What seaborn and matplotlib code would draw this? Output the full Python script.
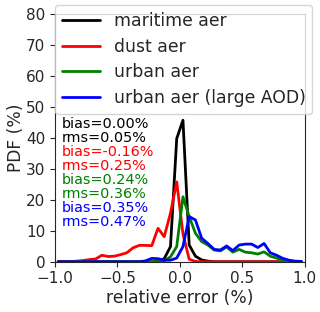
import numpy as np
import pandas as pd
import seaborn as sns
import matplotlib
matplotlib.use('Agg')
import matplotlib.pyplot as plt

sns.set_style('ticks')
plt.rcParams['font.family'] = ['DejaVu Sans']

# bin centres of the relative error histogram (%)
bin_centers = [-0.975, -0.925, -0.875, -0.825, -0.775, -0.725, -0.675, -0.625,
               -0.575, -0.525, -0.475, -0.425, -0.375, -0.325, -0.275, -0.225,
               -0.175, -0.125, -0.075, -0.025, 0.025, 0.075, 0.125, 0.175,
               0.225, 0.275, 0.325, 0.375, 0.425, 0.475, 0.525, 0.575,
               0.625, 0.675, 0.725, 0.775, 0.825, 0.875, 0.925, 0.975]

pdf_maritime = [0, 0, 0, 0, 0, 0, 0, 0,
                0, 0, 0, 0, 0, 0, 0, 0,
                0.2, 1.0, 4.9, 39.8, 45.7, 5.4, 1.8, 0.6,
                0.2, 0, 0, 0, 0, 0, 0, 0,
                0, 0, 0, 0, 0, 0, 0, 0]

pdf_dust = [0.1, 0.1, 0.1, 0.2, 0.4, 0.7, 0.9, 2.1,
            1.7, 1.8, 2.3, 2.9, 4.5, 5.3, 5.3, 5.2,
            10.8, 8.1, 15.7, 25.8, 9.0, 0.8, 0.1, 0,
            0, 0, 0, 0, 0, 0, 0, 0,
            0, 0, 0, 0, 0, 0, 0, 0]

pdf_urban = [0, 0, 0, 0, 0, 0, 0, 0,
             0, 0, 0, 0, 0, 0, 0, 0,
             0.1, 0.3, 1.6, 4.9, 21.0, 14.6, 9.2, 6.5,
             5.4, 3.8, 3.5, 4.8, 3.1, 4.0, 3.1, 2.9,
             2.5, 3.2, 1.8, 1.2, 0.5, 0.2, 0.1, 0]

pdf_urban_large = [0, 0, 0, 0, 0, 0, 0, 0,
                   0, 0, 0, 0, 0, 0, 0.3, 1.1,
                   1.0, 0.5, 0.5, 1.2, 4.9, 14.6, 13.5, 7.6,
                   5.9, 4.0, 3.8, 5.1, 3.6, 5.4, 5.7, 5.7,
                   4.6, 5.9, 2.9, 2.1, 1.1, 0.5, 0.2, 0.1]

labels = ['maritime aer', 'dust aer', 'urban aer', 'urban aer (large AOD)']
colors = ['black', 'red', 'green', 'blue']
stats_text = ['bias=0.00%', 'rms=0.05%', 'bias=-0.16%', 'rms=0.25%',
              'bias=0.24%', 'rms=0.36%', 'bias=0.35%', 'rms=0.47%']
stats_colors = ['black', 'black', 'red', 'red', 'green', 'green', 'blue', 'blue']

frames = []
for lab, vals in zip(labels, [pdf_maritime, pdf_dust, pdf_urban, pdf_urban_large]):
    frames.append(pd.DataFrame({'err': bin_centers, 'pdf': vals, 'case': lab}))
df = pd.concat(frames, ignore_index=True)

fig = plt.figure(figsize=(3.2, 3.12), dpi=100)
ax = fig.add_axes([0.172, 0.161, 0.78, 0.794])

sns.lineplot(data=df, x='err', y='pdf', hue='case', hue_order=labels,
             palette=colors, linewidth=2, ax=ax, legend=False)

ax.set_xlim(-1, 1)
ax.set_ylim(0, 80)
ax.set_xticks([-1.0, -0.5, 0.0, 0.5, 1.0])
ax.set_yticks(range(0, 81, 10))
ax.tick_params(labelsize=11, length=3.5)
ax.set_xlabel('relative error (%)', fontsize=12.3, labelpad=2)
ax.set_ylabel('PDF (%)', fontsize=12.3, labelpad=1)

for i, (t, c) in enumerate(zip(stats_text, stats_colors)):
    ax.text(0.025, 0.585 - i * 0.0565, t, color=c, fontsize=10.4,
            transform=ax.transAxes, va='top', ha='left')

handles = [plt.Line2D([], [], color=c, lw=2) for c in colors]
fig.legend(handles, labels, loc='upper left', bbox_to_anchor=(55 / 320, 1 - 5 / 312),
           borderaxespad=0, fontsize=12.4, handlelength=2.2, labelspacing=0.45,
           fancybox=True, framealpha=0.8)

fig.savefig('out.png', dpi=100)
